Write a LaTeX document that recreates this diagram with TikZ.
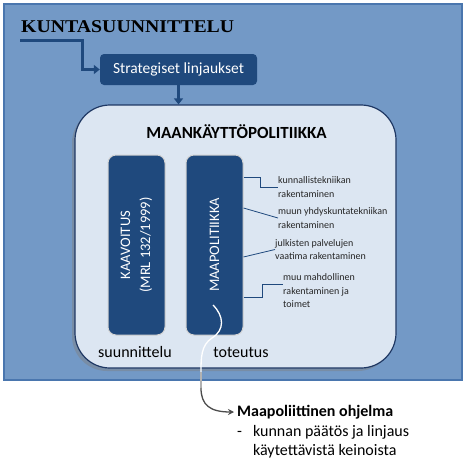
\documentclass[tikz,border=0pt]{standalone}
\usepackage{fontspec}
\setmainfont{Carlito}
\newfontfamily\stencilfont[FakeStretch=1.1]{Liberation Serif}
\usetikzlibrary{positioning,calc,shadows,arrows.meta}

\definecolor{outerblue}{HTML}{7399C6}
\definecolor{outerline}{HTML}{4A76AE}
\definecolor{paleblue}{HTML}{DCE6F2}
\definecolor{navyline}{HTML}{1F3864}
\definecolor{darkblue}{HTML}{1F497D}

\tikzset{
  outerframe/.style={fill=outerblue, draw=outerline, line width=1.5pt},
  innerbox/.style={rectangle, rounded corners=35pt, fill=paleblue, draw=navyline,
    line width=1.2pt, drop shadow={shadow xshift=-3pt, shadow yshift=-3pt, opacity=.45}},
  pillar/.style={rectangle, rounded corners=8pt, fill=darkblue, draw=gray!35,
    line width=1pt, text=white, rotate=90, align=center,
    minimum width=180pt, minimum height=57pt, font=\fontsize{14.5}{20}\selectfont},
  strategybox/.style={rectangle, rounded corners=4pt, fill=darkblue, text=white,
    minimum width=157pt, minimum height=31pt, font=\fontsize{15.5}{17}\selectfont},
  thickarrow/.style={draw=darkblue, line width=3pt, -{Triangle[width=9pt,length=6pt]}},
  sideline/.style={draw=darkblue, line width=.8pt},
  smalltext/.style={anchor=west, align=left, inner sep=0pt, text=black!85,
    font=\fontsize{10}{13.5}\selectfont},
}

\begin{document}
\begin{tikzpicture}[x=1pt, y=-1pt]
  \useasboundingbox (0,0) rectangle (466,463);

  % taustat
  \draw [outerframe] (4,4) rectangle (462,380);
  \node [innerbox, minimum width=321pt, minimum height=263pt] (mkp) at (235.5,236.5) {};

  % otsikko ja strategiset linjaukset
  \node [anchor=west, inner sep=0pt, font=\stencilfont\bfseries\fontsize{18}{18}\selectfont]
    (kunta) at (21,27) {KUNTASUUNNITTELU};
  \node [strategybox] (strat) at (178.5,69.5) {Strategiset linjaukset};
  \coordinate (kstart) at (20,40);
  \draw [thickarrow] (kstart) -| ($(strat.west)+(-17,0)$) -- (strat.west);
  \draw [thickarrow] (strat.south) -- (strat.south |- mkp.north);

  \node [font=\bfseries\fontsize{17}{19}\selectfont] (mkptitle) at (236.5,132) {MAANKÄYTTÖPOLITIIKKA};

  % pylvaat
  \node [pillar] (kaav) at (136.5,245) {KAAVOITUS\\(MRL 132/1999)};
  \node [pillar] (maapol) at (214.5,245) {MAAPOLITIIKKA};

  \node [font=\fontsize{16}{18}\selectfont] (suun) at (135,352) {suunnittelu};
  \node [font=\fontsize{16}{18}\selectfont] (tote) at (241,352) {toteutus};

  % maapolitiikan keinot
  \node [smalltext] (lab1) at (278,187) {kunnallistekniikan\\rakentaminen};
  \node [smalltext] (lab2) at (278,218) {muun yhdyskuntatekniikan\\rakentaminen};
  \node [smalltext] (lab3) at (275,249.5) {julkisten palvelujen\\vaatima rakentaminen};
  \node [smalltext] (lab4) at (283,291) {muu mahdollinen\\rakentaminen ja\\toimet};

  \draw [sideline] (maapol.south |- 0,177) -- ++(17,0) |- (lab1.west);
  \draw [sideline] (maapol.south |- 0,208) -- (lab2.west);
  \draw [sideline] (maapol.south |- 0,257) -- (lab3.west);
  \draw [sideline] (maapol.south |- 0,297) -- ++(19,0) |- ([yshift=7pt]lab4.west);

  % maapoliittinen ohjelma
  \node [anchor=west, inner sep=0pt, font=\bfseries\fontsize{16}{18}\selectfont]
    (ohjelma) at (237,412) {Maapoliittinen ohjelma};
  \node [anchor=north west, inner sep=0pt, font=\fontsize{16}{19}\selectfont]
    (keinot) at (237,423) {\begin{tabular}{@{}l@{\hspace{11pt}}l@{}}
      - & kunnan päätös ja linjaus\\
        & käytettävistä keinoista
    \end{tabular}};

  \coordinate (cstart) at (213,305);
  \coordinate (cmid) at (201,372);
  \coordinate (cmid2) at (201,388);
  \draw [white, line width=1.3pt] (cstart) .. controls (224,316) and (225,330) .. (212,338)
    .. controls (201,345) and (201,358) .. (cmid);
  \draw [gray!60, line width=1.3pt] (cmid) -- (cmid2);
  \draw [black!70, line width=1.3pt, -{Stealth[length=6pt,width=6pt]}] (cmid2)
    .. controls (201,405) and (210,412) .. ([xshift=-3pt]ohjelma.west);
\end{tikzpicture}
\end{document}
